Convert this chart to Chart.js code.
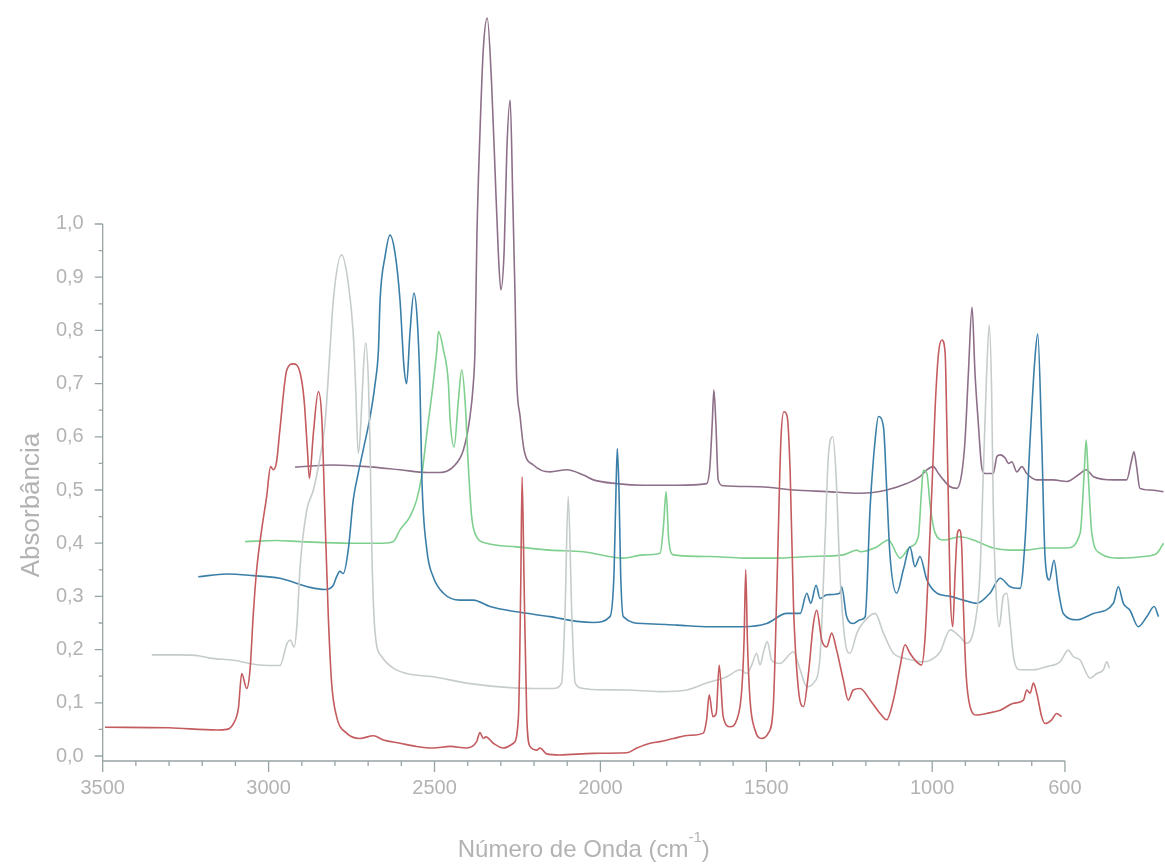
<!DOCTYPE html>
<html lang="pt">
<head>
    <meta charset="UTF-8">
    <title>Espectros de Absorbância</title>
    <script src="https://cdn.jsdelivr.net/npm/chart.js@4.4.1/dist/chart.umd.min.js"></script>
    <style>
        html, body { margin: 0; padding: 0; background: #ffffff; }
        #wrap { width: 1165px; height: 864px; }
    </style>
</head>
<body>
    <div id="wrap"><canvas id="spectra" width="1165" height="864"></canvas></div>
    <script>
        // [número de onda (cm-1), absorbância] for each spectrum
        const redSpectrum = [[3493,0.054],[3300,0.053],[3156,0.049],[3126,0.050],[3106,0.061],[3091,0.090],[3081,0.155],[3066,0.127],[3056,0.162],[3046,0.268],[3036,0.350],[3021,0.425],[3006,0.487],[2994,0.544],[2986,0.538],[2976,0.553],[2966,0.613],[2945,0.726],[2926,0.737],[2905,0.720],[2893,0.669],[2883,0.575],[2877,0.522],[2865,0.607],[2850,0.685],[2840,0.638],[2830,0.450],[2820,0.262],[2810,0.137],[2795,0.074],[2765,0.043],[2725,0.033],[2684,0.038],[2654,0.030],[2604,0.024],[2554,0.018],[2504,0.015],[2453,0.018],[2403,0.015],[2373,0.027],[2363,0.044],[2353,0.033],[2345,0.036],[2323,0.024],[2293,0.015],[2262,0.024],[2247,0.074],[2240,0.325],[2236,0.525],[2230,0.325],[2222,0.074],[2212,0.018],[2192,0.011],[2182,0.015],[2162,0.004],[2122,0.002],[2021,0.005],[1921,0.006],[1890,0.015],[1850,0.024],[1820,0.027],[1780,0.033],[1730,0.039],[1690,0.043],[1680,0.068],[1672,0.115],[1661,0.074],[1651,0.080],[1642,0.171],[1630,0.074],[1609,0.055],[1589,0.068],[1574,0.124],[1567,0.218],[1562,0.350],[1557,0.218],[1549,0.105],[1534,0.049],[1514,0.033],[1494,0.043],[1479,0.093],[1467,0.343],[1456,0.594],[1447,0.647],[1437,0.638],[1428,0.531],[1418,0.281],[1403,0.124],[1388,0.093],[1373,0.155],[1358,0.249],[1348,0.274],[1333,0.218],[1318,0.205],[1303,0.231],[1288,0.199],[1268,0.143],[1253,0.105],[1238,0.124],[1217,0.127],[1187,0.105],[1157,0.080],[1137,0.068],[1117,0.105],[1097,0.168],[1082,0.209],[1067,0.193],[1047,0.177],[1032,0.171],[1022,0.218],[1012,0.343],[1001,0.500],[991,0.657],[981,0.757],[971,0.782],[961,0.757],[956,0.625],[951,0.469],[946,0.312],[938,0.243],[931,0.343],[924,0.419],[918,0.425],[911,0.393],[906,0.281],[898,0.155],[886,0.093],[866,0.077],[836,0.080],[795,0.086],[755,0.099],[725,0.105],[715,0.124],[705,0.118],[695,0.137],[685,0.118],[670,0.074],[660,0.061],[640,0.068],[625,0.080],[610,0.074]];

        const greySpectrum = [[3352,0.190],[3277,0.190],[3207,0.188],[3177,0.184],[3106,0.180],[3026,0.171],[2966,0.170],[2944,0.212],[2935,0.218],[2923,0.205],[2915,0.243],[2905,0.356],[2885,0.462],[2865,0.500],[2850,0.544],[2830,0.625],[2815,0.763],[2805,0.857],[2780,0.942],[2760,0.889],[2745,0.795],[2738,0.700],[2730,0.569],[2707,0.776],[2699,0.700],[2694,0.575],[2689,0.387],[2679,0.231],[2659,0.187],[2624,0.165],[2584,0.155],[2504,0.149],[2403,0.137],[2302,0.130],[2202,0.127],[2142,0.127],[2117,0.137],[2107,0.262],[2097,0.487],[2086,0.262],[2076,0.137],[2051,0.127],[2021,0.125],[1921,0.124],[1820,0.121],[1740,0.124],[1680,0.137],[1619,0.149],[1579,0.162],[1559,0.155],[1544,0.171],[1529,0.193],[1519,0.171],[1507,0.199],[1497,0.215],[1484,0.180],[1459,0.174],[1418,0.196],[1398,0.162],[1378,0.130],[1358,0.137],[1338,0.187],[1323,0.406],[1313,0.563],[1300,0.600],[1290,0.531],[1278,0.343],[1263,0.218],[1248,0.193],[1227,0.231],[1217,0.243],[1172,0.268],[1147,0.231],[1117,0.193],[1087,0.184],[1057,0.180],[1032,0.177],[1006,0.180],[976,0.196],[946,0.237],[916,0.224],[896,0.212],[871,0.249],[856,0.343],[846,0.531],[836,0.719],[828,0.810],[821,0.688],[816,0.469],[808,0.312],[798,0.243],[786,0.300],[775,0.306],[765,0.249],[755,0.187],[735,0.162],[695,0.162],[655,0.168],[615,0.177],[590,0.199],[575,0.187],[554,0.180],[524,0.146],[504,0.155],[484,0.162],[474,0.177],[466,0.165]];

        const blueSpectrum = [[3212,0.337],[3126,0.342],[3046,0.339],[2966,0.334],[2875,0.317],[2830,0.313],[2805,0.321],[2795,0.337],[2785,0.347],[2775,0.343],[2760,0.387],[2745,0.481],[2730,0.531],[2715,0.575],[2694,0.638],[2679,0.700],[2669,0.763],[2664,0.857],[2649,0.939],[2634,0.979],[2619,0.945],[2604,0.857],[2592,0.732],[2584,0.700],[2574,0.795],[2562,0.870],[2552,0.820],[2544,0.700],[2538,0.520],[2523,0.387],[2504,0.337],[2473,0.306],[2423,0.293],[2383,0.293],[2333,0.281],[2252,0.271],[2152,0.262],[2071,0.253],[2021,0.251],[1971,0.262],[1959,0.343],[1953,0.500],[1949,0.578],[1944,0.500],[1939,0.343],[1931,0.262],[1871,0.249],[1770,0.246],[1670,0.243],[1569,0.243],[1499,0.249],[1438,0.268],[1398,0.268],[1378,0.306],[1366,0.287],[1350,0.321],[1338,0.296],[1318,0.303],[1278,0.306],[1273,0.318],[1258,0.262],[1238,0.249],[1217,0.256],[1202,0.262],[1187,0.469],[1172,0.594],[1162,0.638],[1147,0.619],[1137,0.500],[1127,0.375],[1107,0.306],[1087,0.350],[1067,0.393],[1052,0.356],[1037,0.375],[1016,0.331],[986,0.306],[946,0.300],[906,0.293],[866,0.287],[826,0.306],[795,0.334],[765,0.318],[735,0.315],[720,0.406],[705,0.594],[690,0.751],[682,0.793],[670,0.594],[660,0.375],[647,0.331],[633,0.368],[620,0.312],[605,0.268],[564,0.256],[514,0.268],[454,0.287],[439,0.318],[424,0.287],[404,0.274],[379,0.243],[353,0.262],[331,0.281],[318,0.262]];

        const greenSpectrum = [[3071,0.403],[2976,0.405],[2905,0.403],[2755,0.400],[2654,0.400],[2624,0.403],[2604,0.425],[2574,0.450],[2554,0.481],[2539,0.525],[2523,0.607],[2504,0.700],[2493,0.763],[2488,0.798],[2473,0.763],[2458,0.700],[2453,0.632],[2441,0.581],[2428,0.669],[2418,0.726],[2408,0.669],[2398,0.544],[2388,0.450],[2373,0.412],[2343,0.400],[2252,0.393],[2152,0.387],[2051,0.384],[1931,0.372],[1871,0.378],[1820,0.381],[1810,0.431],[1802,0.497],[1794,0.406],[1780,0.378],[1670,0.375],[1569,0.372],[1469,0.372],[1368,0.375],[1268,0.378],[1227,0.387],[1217,0.384],[1167,0.393],[1132,0.406],[1097,0.372],[1067,0.393],[1042,0.412],[1032,0.500],[1027,0.537],[1016,0.531],[1006,0.469],[991,0.419],[966,0.406],[916,0.412],[876,0.406],[816,0.391],[765,0.387],[715,0.387],[665,0.391],[594,0.391],[554,0.419],[542,0.531],[536,0.594],[530,0.531],[519,0.419],[494,0.381],[434,0.372],[364,0.375],[323,0.381],[303,0.400]];

        const purpleSpectrum = [[2920,0.543],[2805,0.547],[2704,0.544],[2604,0.538],[2523,0.533],[2483,0.533],[2443,0.544],[2413,0.575],[2393,0.638],[2383,0.700],[2378,0.763],[2372,0.983],[2363,1.171],[2353,1.328],[2341,1.387],[2328,1.265],[2318,1.108],[2308,0.951],[2300,0.876],[2290,0.951],[2282,1.139],[2272,1.233],[2264,1.045],[2257,0.857],[2253,0.720],[2242,0.638],[2230,0.575],[2202,0.547],[2152,0.534],[2101,0.538],[2051,0.528],[2021,0.519],[1951,0.512],[1871,0.509],[1770,0.509],[1680,0.512],[1670,0.544],[1663,0.625],[1658,0.688],[1652,0.625],[1645,0.519],[1630,0.508],[1519,0.506],[1418,0.500],[1318,0.497],[1217,0.494],[1137,0.500],[1077,0.512],[1037,0.525],[1016,0.538],[997,0.544],[981,0.531],[966,0.519],[946,0.506],[926,0.503],[911,0.531],[901,0.594],[891,0.719],[880,0.844],[871,0.719],[861,0.625],[851,0.544],[841,0.531],[816,0.531],[805,0.563],[795,0.566],[780,0.560],[770,0.550],[760,0.553],[745,0.534],[730,0.544],[715,0.531],[685,0.519],[635,0.519],[594,0.516],[554,0.531],[536,0.538],[514,0.525],[454,0.519],[414,0.519],[399,0.556],[392,0.572],[384,0.544],[374,0.503],[343,0.500],[303,0.497]];

        const xTickValues = [3500, 3000, 2500, 2000, 1500, 1000, 600];
        const yTickValues = [0, 0.1, 0.2, 0.3, 0.4, 0.5, 0.6, 0.7, 0.8, 0.9, 1.0];

        const textColor = '#b3b3b3';
        const axisColor = '#98a4a4';
        const fontFamily = 'Arial, "Liberation Sans", sans-serif';

        function toPoints(pairs) {
            return pairs.map(p => ({ x: p[0], y: p[1] }));
        }

        function spectrum(pairs, color) {
            return {
                data: toPoints(pairs),
                borderColor: color,
                borderWidth: 1.6,
                pointRadius: 0,
                fill: false,
                cubicInterpolationMode: 'monotone'
            };
        }

        // axis lines, tick marks and titles in the Origin style (axes stop at 600 and 1,0)
        const originAxes = {
            id: 'originAxes',
            afterDraw(chart) {
                const ctx = chart.ctx;
                const xs = chart.scales.x;
                const ys = chart.scales.y;
                const left = xs.getPixelForValue(3500);
                const right = xs.getPixelForValue(600);
                const base = chart.chartArea.bottom;
                const top = ys.getPixelForValue(1.0);

                ctx.save();
                ctx.strokeStyle = axisColor;
                ctx.lineWidth = 1.3;
                ctx.beginPath();
                ctx.moveTo(left, top);
                ctx.lineTo(left, base);
                ctx.lineTo(right, base);
                for (let w = 3500; w >= 600; w -= 100) {
                    const px = xs.getPixelForValue(w);
                    const len = xTickValues.includes(w) ? 11 : 5;
                    ctx.moveTo(px, base);
                    ctx.lineTo(px, base + len);
                }
                for (let i = 0; i <= 20; i++) {
                    const py = ys.getPixelForValue(i * 0.05);
                    const len = i % 2 === 0 ? 8 : 4;
                    ctx.moveTo(left, py);
                    ctx.lineTo(left - len, py);
                }
                ctx.stroke();

                // axis titles
                ctx.fillStyle = textColor;
                ctx.textBaseline = 'middle';
                ctx.textAlign = 'center';
                ctx.font = '26px ' + fontFamily;
                ctx.save();
                ctx.translate(32, 505);
                ctx.rotate(-Math.PI / 2);
                ctx.fillText('Absorbância', 0, 0);
                ctx.restore();

                const mainText = 'Número de Onda (cm';
                const supText = '-1';
                const closeText = ')';
                ctx.font = '24px ' + fontFamily;
                const wMain = ctx.measureText(mainText).width;
                const wClose = ctx.measureText(closeText).width;
                ctx.font = '15px ' + fontFamily;
                const wSup = ctx.measureText(supText).width;
                const cx = (left + right) / 2;
                let x = cx - (wMain + wSup + wClose) / 2;
                const ty = 850;
                ctx.textAlign = 'left';
                ctx.font = '24px ' + fontFamily;
                ctx.fillText(mainText, x, ty);
                x += wMain;
                ctx.font = '15px ' + fontFamily;
                ctx.fillText(supText, x, ty - 12);
                x += wSup;
                ctx.font = '24px ' + fontFamily;
                ctx.fillText(closeText, x, ty);
                ctx.restore();
            }
        };

        new Chart(document.getElementById('spectra'), {
            type: 'line',
            data: {
                datasets: [
                    spectrum(redSpectrum, '#c45b5e'),
                    spectrum(greySpectrum, '#c6cccc'),
                    spectrum(blueSpectrum, '#3b7fa8'),
                    spectrum(greenSpectrum, '#7fcf8e'),
                    spectrum(purpleSpectrum, '#8d6f89')
                ]
            },
            options: {
                responsive: false,
                animation: false,
                layout: { padding: 0 },
                plugins: {
                    legend: { display: false },
                    tooltip: { enabled: false }
                },
                scales: {
                    x: {
                        type: 'linear',
                        reverse: true,
                        min: 298.4,
                        max: 3500,
                        afterBuildTicks: s => { s.ticks = xTickValues.map(v => ({ value: v })); },
                        afterFit: s => {
                            s.height = 103;
                            s.paddingLeft = 0;
                            s.paddingRight = 0;
                        },
                        grid: { display: false, drawTicks: false },
                        border: { display: false },
                        ticks: {
                            autoSkip: false,
                            maxRotation: 0,
                            padding: 15,
                            color: textColor,
                            font: { family: fontFamily, size: 20 },
                            callback: v => String(v)
                        }
                    },
                    y: {
                        type: 'linear',
                        min: -0.0094,
                        max: 1.421,
                        afterBuildTicks: s => { s.ticks = yTickValues.map(v => ({ value: v })); },
                        afterFit: s => {
                            s.width = 102.7;
                            s.paddingTop = 0;
                            s.paddingBottom = 0;
                        },
                        grid: { display: false, drawTicks: false },
                        border: { display: false },
                        ticks: {
                            padding: 19,
                            color: textColor,
                            font: { family: fontFamily, size: 20 },
                            callback: v => v.toFixed(1).replace('.', ',')
                        }
                    }
                }
            },
            plugins: [originAxes]
        });
    </script>
</body>
</html>
